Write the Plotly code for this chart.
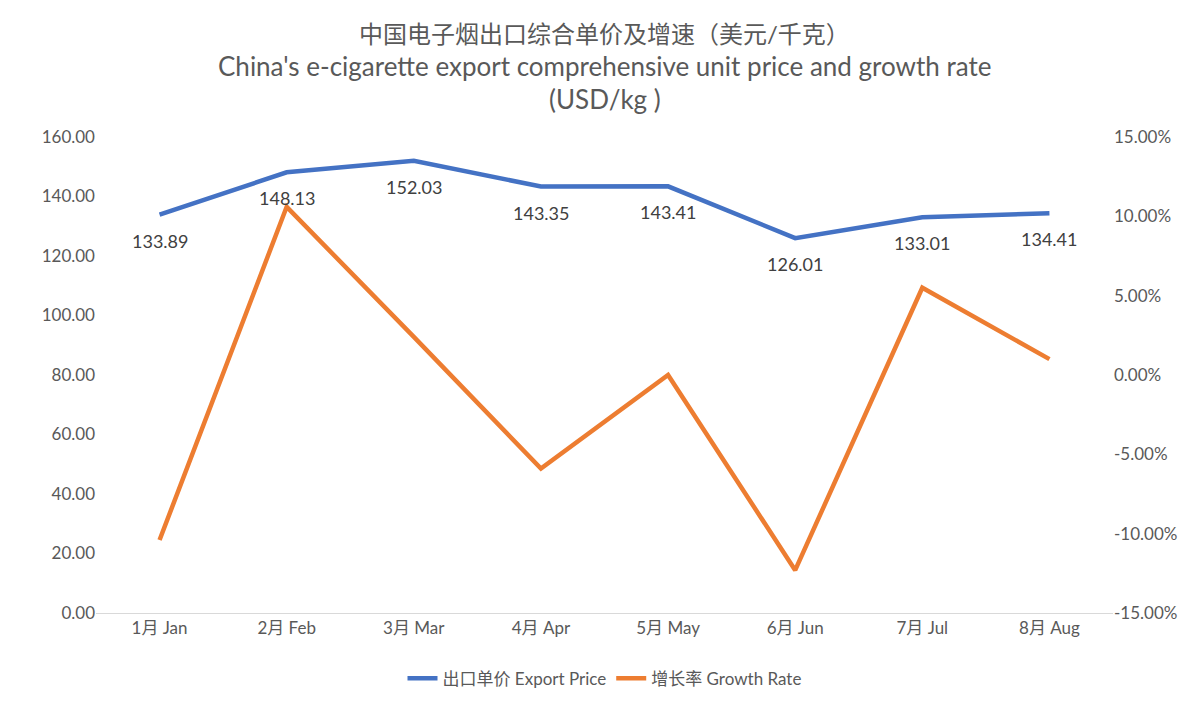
import plotly.graph_objects as go

months = ["1月 Jan", "2月 Feb", "3月 Mar", "4月 Apr", "5月 May", "6月 Jun", "7月 Jul", "8月 Aug"]
export_price = [133.89, 148.13, 152.03, 143.35, 143.41, 126.01, 133.01, 134.41]
growth_rate = [-10.4, 10.6, 2.4, -5.9, 0.0, -12.3, 5.5, 1.0]

font = "Lato, Noto Sans CJK SC"
grey = "#595959"

fig = go.Figure()
fig.add_trace(go.Scatter(
    x=months, y=export_price, name="出口单价 Export Price",
    mode="lines", line=dict(color="#4472C4", width=4.5)))
fig.add_trace(go.Scatter(
    x=months, y=growth_rate, name="增长率 Growth Rate", yaxis="y2",
    mode="lines", line=dict(color="#ED7D31", width=4.5)))

# data labels sit a little below the blue line
for m, v in zip(months, export_price):
    fig.add_annotation(x=m, y=v, text=f"{v:.2f}", showarrow=False, yshift=-26,
                       font=dict(size=18, color="#404040"))

titles = ["中国电子烟出口综合单价及增速（美元/千克）",
          "China's e-cigarette export comprehensive unit price and growth rate",
          "(USD/kg )"]
for i, t in enumerate(titles):
    fig.add_annotation(text=t, xref="paper", yref="paper", x=0.5, y=1,
                       yanchor="middle", yshift=104 - i * 33, showarrow=False,
                       font=dict(size=i and 26 or 24, color=grey))

fig.update_layout(
    width=1200, height=701,
    paper_bgcolor="white", plot_bgcolor="white",
    font=dict(family=font, color=grey, size=16),
    margin=dict(l=88, r=95, t=129, b=89),
    xaxis=dict(range=[-0.5, 7.5], showgrid=False, showline=True, linecolor="#d9d9d9",
               ticks="", tickfont=dict(size=17, color=grey)),
    yaxis=dict(range=[0, 160], dtick=20, tickformat=".2f", showgrid=False,
               zeroline=False, tickfont=dict(size=17, color=grey)),
    yaxis2=dict(range=[-15, 15], overlaying="y", side="right",
                showgrid=False, zeroline=False,
                tickvals=[-15, -10, -5, 0, 5, 10, 15],
                ticktext=["-15.00%", "-10.00%", "-5.00%", "0.00%", "5.00%", "10.00%", "15.00%"],
                tickfont=dict(size=17, color=grey)),
    legend=dict(orientation="h", x=0.5, xanchor="center", y=-0.1, yanchor="top",
                font=dict(size=17, color=grey)),
)

fig.write_html("out.html")
